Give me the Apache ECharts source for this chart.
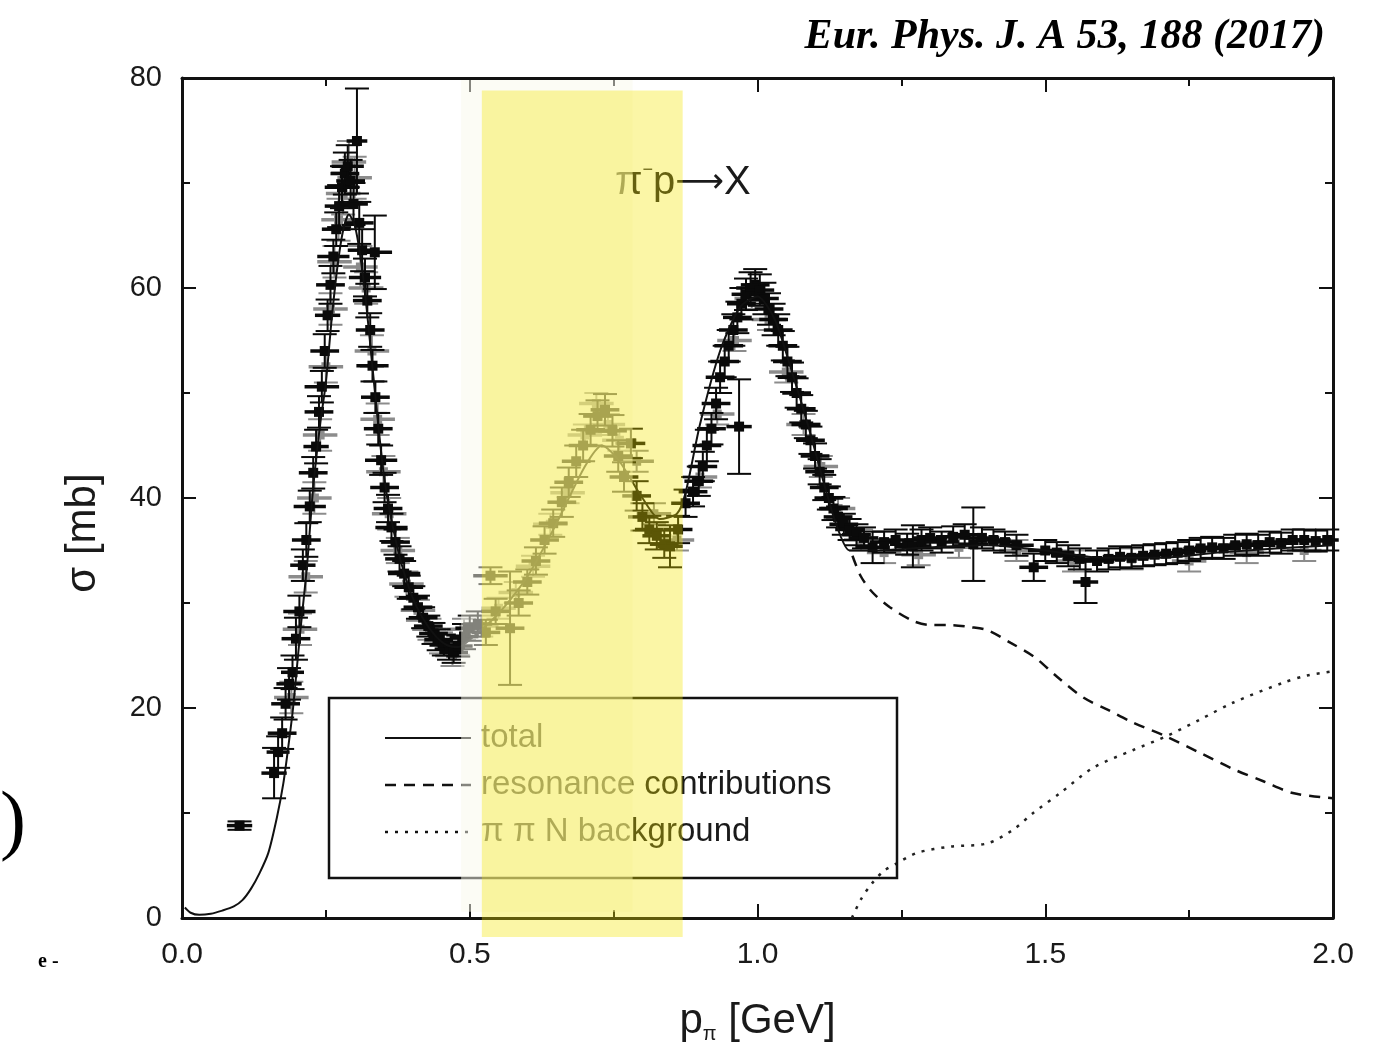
<!DOCTYPE html>
<html>
<head>
<meta charset="utf-8">
<title>pi- p total cross section</title>
<script src="https://cdn.jsdelivr.net/npm/echarts@6.0.0/dist/echarts.min.js"></script>
<style>
html, body { margin: 0; padding: 0; background: #fff; }
#main { width: 1378px; height: 1053px; }
</style>
</head>
<body>
<div id="main"></div>
<script>
// measured points: [p (GeV), sigma (mb), dp, dsigma]
var blackPts = [
  [0.100, 8.8, 0.022, 0.4], [0.160, 13.8, 0.022, 2.4], [0.167, 15.8, 0.020, 1.5],
  [0.174, 17.6, 0.025, 1.5], [0.180, 20.4, 0.025, 1.5], [0.186, 22.3, 0.022, 1.5],
  [0.192, 23.4, 0.020, 1.6], [0.198, 26.6, 0.025, 2.0], [0.204, 29.2, 0.028, 1.5],
  [0.210, 33.6, 0.022, 1.5], [0.216, 36.0, 0.025, 1.6], [0.222, 39.2, 0.028, 1.5],
  [0.228, 42.4, 0.025, 1.5], [0.233, 44.9, 0.022, 1.6], [0.238, 48.2, 0.025, 1.5],
  [0.243, 50.6, 0.030, 1.5], [0.248, 54.0, 0.025, 1.6], [0.253, 57.4, 0.022, 1.5],
  [0.258, 60.3, 0.025, 1.8], [0.263, 63.0, 0.028, 1.6], [0.268, 65.6, 0.025, 1.6],
  [0.273, 67.8, 0.025, 2.0], [0.278, 69.6, 0.030, 2.0], [0.283, 70.9, 0.025, 2.0],
  [0.288, 71.6, 0.028, 2.0], [0.293, 70.2, 0.025, 2.0], [0.298, 68.0, 0.025, 2.0],
  [0.304, 74.0, 0.018, 5.0], [0.308, 66.2, 0.025, 2.0], [0.313, 63.6, 0.025, 2.0],
  [0.318, 61.0, 0.028, 1.8], [0.322, 58.8, 0.025, 1.6], [0.327, 56.0, 0.025, 1.6],
  [0.331, 52.6, 0.028, 1.5], [0.335, 63.4, 0.030, 3.5], [0.336, 49.6, 0.025, 1.5],
  [0.341, 46.6, 0.025, 1.5], [0.346, 43.6, 0.028, 1.4], [0.352, 41.0, 0.025, 1.4],
  [0.358, 39.0, 0.025, 1.3], [0.364, 37.2, 0.028, 1.3], [0.371, 35.8, 0.025, 1.2],
  [0.378, 34.2, 0.025, 1.2], [0.386, 32.8, 0.028, 1.2], [0.394, 31.5, 0.025, 1.1],
  [0.402, 30.5, 0.025, 1.1], [0.410, 29.6, 0.025, 1.1], [0.419, 28.6, 0.025, 1.0],
  [0.428, 27.8, 0.025, 1.0], [0.437, 27.1, 0.025, 1.0], [0.446, 26.5, 0.025, 1.0],
  [0.455, 26.0, 0.025, 1.0], [0.464, 25.6, 0.025, 1.0], [0.472, 25.3, 0.025, 1.0],
  [0.480, 25.9, 0.025, 1.0], [0.490, 26.8, 0.025, 1.2], [0.500, 27.6, 0.025, 1.2],
  [0.514, 28.0, 0.025, 1.2], [0.528, 27.2, 0.025, 1.2], [0.536, 32.6, 0.030, 0.8],
  [0.545, 29.2, 0.025, 1.2], [0.570, 27.6, 0.025, 5.4], [0.585, 30.0, 0.025, 1.2],
  [0.600, 32.0, 0.025, 1.2], [0.615, 34.0, 0.025, 1.3], [0.630, 36.0, 0.025, 1.3],
  [0.645, 37.6, 0.025, 1.3], [0.660, 39.6, 0.025, 1.4], [0.672, 41.5, 0.025, 1.4],
  [0.685, 43.5, 0.025, 1.5], [0.697, 45.0, 0.025, 1.5], [0.710, 46.5, 0.025, 1.5],
  [0.722, 47.8, 0.025, 1.5], [0.735, 48.4, 0.025, 1.5], [0.748, 46.4, 0.025, 1.5],
  [0.758, 44.0, 0.025, 1.5], [0.768, 42.0, 0.025, 1.4], [0.780, 45.2, 0.025, 1.4],
  [0.790, 40.2, 0.025, 1.4], [0.800, 38.2, 0.025, 1.3], [0.812, 37.0, 0.025, 1.3],
  [0.825, 36.4, 0.025, 1.3], [0.838, 35.6, 0.025, 1.3], [0.848, 35.4, 0.022, 2.0],
  [0.862, 37.0, 0.025, 1.3], [0.875, 39.5, 0.025, 1.3], [0.888, 40.6, 0.025, 1.4],
  [0.898, 41.6, 0.025, 1.4], [0.905, 43.0, 0.025, 1.4], [0.912, 45.0, 0.025, 1.5],
  [0.920, 46.6, 0.025, 1.5], [0.928, 49.0, 0.025, 1.5], [0.935, 51.5, 0.025, 1.5],
  [0.943, 53.0, 0.025, 1.5], [0.950, 54.5, 0.025, 1.5], [0.958, 56.0, 0.025, 1.5],
  [0.965, 57.2, 0.025, 1.5], [0.968, 46.8, 0.022, 4.5], [0.972, 58.5, 0.025, 1.5],
  [0.980, 59.4, 0.025, 1.5], [0.988, 60.0, 0.025, 1.5], [0.996, 60.3, 0.025, 1.5],
  [1.004, 59.8, 0.025, 1.5], [1.012, 59.0, 0.025, 1.5], [1.020, 58.0, 0.025, 1.5],
  [1.028, 57.0, 0.025, 1.5], [1.036, 56.0, 0.025, 1.5], [1.044, 54.5, 0.025, 1.4],
  [1.052, 53.0, 0.025, 1.4], [1.060, 51.5, 0.025, 1.4], [1.068, 50.0, 0.025, 1.4],
  [1.076, 48.5, 0.025, 1.3], [1.084, 47.0, 0.025, 1.3], [1.092, 45.5, 0.025, 1.3],
  [1.100, 44.0, 0.025, 1.2], [1.108, 42.5, 0.025, 1.2], [1.116, 41.0, 0.025, 1.2],
  [1.124, 40.0, 0.025, 1.1], [1.132, 39.0, 0.025, 1.1], [1.140, 38.2, 0.025, 1.0],
  [1.150, 37.5, 0.025, 1.0], [1.160, 37.0, 0.025, 1.0], [1.172, 36.5, 0.025, 1.0],
  [1.185, 36.2, 0.025, 1.0], [1.200, 35.3, 0.030, 1.5], [1.220, 35.8, 0.025, 1.0],
  [1.240, 36.0, 0.030, 1.0], [1.260, 35.6, 0.030, 1.0], [1.270, 35.4, 0.032, 2.0],
  [1.285, 36.0, 0.030, 1.0], [1.300, 36.2, 0.030, 1.0], [1.320, 35.8, 0.030, 1.0],
  [1.340, 36.3, 0.030, 1.0], [1.360, 36.5, 0.030, 1.0], [1.375, 35.6, 0.026, 3.5],
  [1.390, 36.2, 0.030, 1.0], [1.410, 36.0, 0.030, 1.0], [1.430, 35.8, 0.030, 1.0],
  [1.450, 35.5, 0.030, 1.0], [1.480, 33.4, 0.025, 1.3], [1.500, 35.0, 0.030, 1.0],
  [1.520, 34.8, 0.030, 1.0], [1.540, 34.5, 0.030, 1.0], [1.560, 34.2, 0.030, 1.0],
  [1.570, 32.0, 0.022, 2.0], [1.590, 34.0, 0.030, 1.0], [1.610, 34.2, 0.030, 1.0],
  [1.630, 34.4, 0.030, 1.0], [1.650, 34.3, 0.030, 1.0], [1.670, 34.5, 0.030, 1.0],
  [1.690, 34.6, 0.030, 1.0], [1.710, 34.7, 0.030, 1.0], [1.730, 34.8, 0.030, 1.0],
  [1.750, 35.0, 0.030, 1.0], [1.770, 35.2, 0.030, 1.0], [1.790, 35.3, 0.030, 1.0],
  [1.810, 35.2, 0.030, 1.0], [1.830, 35.5, 0.030, 1.0], [1.850, 35.6, 0.030, 1.0],
  [1.870, 35.5, 0.030, 1.0], [1.890, 35.8, 0.030, 1.0], [1.910, 35.7, 0.030, 1.0],
  [1.930, 36.0, 0.030, 1.0], [1.950, 36.0, 0.030, 1.0], [1.970, 35.9, 0.030, 1.0],
  [1.990, 36.0, 0.020, 1.0]
];

var greyPts = [
  [0.190, 21.0, 0.030, 1.5], [0.205, 27.5, 0.030, 1.5], [0.215, 32.5, 0.030, 1.5],
  [0.230, 40.0, 0.030, 1.5], [0.240, 46.0, 0.030, 1.5], [0.250, 52.5, 0.030, 1.5],
  [0.258, 58.0, 0.030, 1.5], [0.265, 62.5, 0.030, 1.5], [0.272, 66.5, 0.030, 2.0],
  [0.280, 69.0, 0.030, 2.0], [0.290, 72.0, 0.030, 2.0], [0.300, 70.5, 0.030, 2.0],
  [0.310, 62.0, 0.030, 2.0], [0.320, 60.0, 0.030, 1.5], [0.330, 54.0, 0.030, 1.5],
  [0.340, 47.5, 0.030, 1.5], [0.350, 42.5, 0.030, 1.5], [0.360, 38.5, 0.030, 1.5],
  [0.375, 35.0, 0.030, 1.2], [0.390, 31.8, 0.030, 1.2], [0.410, 29.3, 0.030, 1.0],
  [0.430, 27.5, 0.030, 1.0], [0.450, 26.2, 0.030, 1.0], [0.470, 25.0, 0.030, 1.0],
  [0.490, 27.5, 0.030, 1.0], [0.520, 27.8, 0.030, 1.0], [0.550, 29.5, 0.030, 1.0],
  [0.580, 31.0, 0.030, 1.0], [0.610, 33.5, 0.030, 1.0], [0.640, 37.5, 0.030, 1.0],
  [0.670, 40.5, 0.030, 1.0], [0.700, 46.0, 0.030, 1.0], [0.720, 49.0, 0.030, 1.0],
  [0.740, 47.0, 0.030, 1.0], [0.760, 45.5, 0.030, 1.0], [0.790, 43.5, 0.030, 1.0],
  [0.820, 38.5, 0.030, 1.0], [0.860, 36.0, 0.030, 1.0], [0.900, 42.0, 0.030, 1.0],
  [0.930, 48.0, 0.030, 1.0], [0.960, 55.0, 0.030, 1.0], [0.990, 59.0, 0.030, 1.0],
  [1.020, 57.0, 0.030, 1.0], [1.050, 52.0, 0.030, 1.0], [1.080, 47.0, 0.030, 1.0],
  [1.110, 43.0, 0.030, 1.0], [1.140, 39.0, 0.030, 1.0], [1.180, 36.0, 0.030, 1.0],
  [1.220, 34.8, 0.030, 1.0], [1.280, 34.6, 0.030, 1.0], [1.350, 35.3, 0.030, 1.0],
  [1.450, 35.0, 0.030, 1.0], [1.550, 34.0, 0.030, 1.0], [1.650, 34.2, 0.030, 1.0],
  [1.750, 34.0, 0.030, 1.0], [1.850, 34.8, 0.030, 1.0], [1.950, 35.0, 0.030, 1.0]
];

// model curves [p, sigma]
var totalCurve = [
  [0.005, 1.0], [0.015, 0.5], [0.03, 0.3], [0.05, 0.4], [0.07, 0.7], [0.09, 1.1],
  [0.105, 1.7], [0.12, 2.8], [0.135, 4.3], [0.15, 6.2], [0.165, 9.6], [0.176, 12.8],
  [0.184, 16], [0.193, 20], [0.205, 27], [0.217, 33.4], [0.228, 41], [0.24, 47],
  [0.25, 51], [0.26, 57], [0.27, 62], [0.28, 65.5], [0.29, 67], [0.30, 66],
  [0.31, 63], [0.32, 58.5], [0.33, 53], [0.34, 47.5], [0.35, 42.5], [0.36, 39],
  [0.38, 34], [0.40, 30.6], [0.42, 28.4], [0.44, 26.9], [0.46, 26], [0.48, 25.8],
  [0.50, 26.5], [0.55, 29], [0.60, 32.5], [0.65, 37.5], [0.70, 43], [0.73, 45],
  [0.76, 43.5], [0.80, 40], [0.83, 38], [0.86, 38.5], [0.875, 40.5], [0.90, 47],
  [0.935, 54], [0.97, 58.2], [1.0, 59.2], [1.03, 57], [1.06, 52], [1.09, 46.5],
  [1.12, 40.5], [1.14, 37], [1.16, 35], [1.2, 35], [1.3, 35.3], [1.4, 35.5],
  [1.5, 35], [1.6, 34.3], [1.7, 34.3], [1.8, 34.8], [1.9, 35.2], [2.0, 35.5]
];
var resonanceCurve = [
  [1.165, 34.5], [1.18, 32.5], [1.2, 31], [1.23, 29.6], [1.27, 28.3], [1.3, 27.9],
  [1.335, 27.9], [1.37, 27.7], [1.40, 27.4], [1.44, 26.2], [1.48, 24.9], [1.52, 23.0],
  [1.566, 21.0], [1.61, 19.8], [1.653, 18.6], [1.71, 17.3], [1.77, 15.7], [1.83, 14.1],
  [1.88, 13.0], [1.93, 11.9], [2.0, 11.4]
];
var backgroundCurve = [
  [1.164, 0], [1.18, 1.8], [1.199, 3.3], [1.22, 4.5], [1.242, 5.2], [1.277, 6.2],
  [1.335, 6.8], [1.399, 7.1], [1.444, 8.4], [1.479, 10], [1.526, 11.9], [1.583, 14.3],
  [1.653, 16], [1.71, 17.3], [1.769, 18.9], [1.826, 20.5], [1.913, 22.4], [1.955, 23.1],
  [2.0, 23.5]
];

var legendNames = ['total', 'resonance contributions', 'π π N background'];

// highlighted bands laid over the figure, in axis units
var bandPale = { x: [0.485, 0.783], y: [0.6, 79.8] };
var bandYellow = { x: [0.521, 0.870], y: [-1.8, 78.8] };

var FONT = '"Liberation Sans", Arial, sans-serif';
var INK = '#1a1a1a';

function errorBars(color, box) {
  return function (params, api) {
    var x = api.value(0), y = api.value(1), dx = api.value(2), dy = api.value(3);
    var c = api.coord([x, y]);
    var l = api.coord([x - dx, y]);
    var r = api.coord([x + dx, y]);
    var t = api.coord([x, y + dy]);
    var b = api.coord([x, y - dy]);
    var cap = 12;
    var st = { stroke: color, lineWidth: 2 };
    return {
      type: 'group',
      children: [
        { type: 'line', shape: { x1: l[0], y1: c[1], x2: r[0], y2: c[1] }, style: { stroke: color, lineWidth: 3.5 } },
        { type: 'line', shape: { x1: c[0], y1: t[1], x2: c[0], y2: b[1] }, style: st },
        { type: 'line', shape: { x1: c[0] - cap, y1: t[1], x2: c[0] + cap, y2: t[1] }, style: st },
        { type: 'line', shape: { x1: c[0] - cap, y1: b[1], x2: c[0] + cap, y2: b[1] }, style: st },
        { type: 'rect', shape: { x: c[0] - box / 2, y: c[1] - box / 2, width: box, height: box }, style: { fill: color } }
      ]
    };
  };
}

function frameAxis(pos, isX) {
  return {
    type: 'value',
    position: pos,
    min: 0,
    max: isX ? 2 : 80,
    interval: isX ? 0.5 : 20,
    axisLine: { show: true, onZero: false, lineStyle: { color: '#111', width: 3 } },
    axisTick: { show: true, inside: true, length: 14, lineStyle: { color: '#111', width: 2 } },
    minorTick: { show: true, splitNumber: 2, length: 8, lineStyle: { color: '#111', width: 2 } },
    axisLabel: { show: false },
    splitLine: { show: false }
  };
}

var chart = echarts.init(document.getElementById('main'), null, { renderer: 'canvas' });

var xBottom = frameAxis('bottom', true);
xBottom.axisLabel = {
  show: true, margin: 22, fontSize: 30, color: INK, fontFamily: FONT,
  formatter: function (v) { return v.toFixed(1); }
};
xBottom.name = 'p{s|π} [GeV]';
xBottom.nameLocation = 'middle';
xBottom.nameGap = 80;
xBottom.nameTextStyle = {
  fontSize: 42, color: INK, fontFamily: FONT,
  rich: { s: { fontSize: 20, fontFamily: FONT, color: INK, padding: [26, 0, 0, 0] } }
};

var yLeft = frameAxis('left', false);
yLeft.axisLabel = { show: true, margin: 20, fontSize: 29, color: INK, fontFamily: FONT };

var option = {
  backgroundColor: '#ffffff',
  animation: false,
  grid: { left: 182, right: 45, top: 78, bottom: 135 },
  xAxis: [xBottom, frameAxis('top', true)],
  yAxis: [yLeft, frameAxis('right', false)],
  series: [
    {
      type: 'custom', name: 'grey data', data: greyPts, z: 2,
      encode: { x: 0, y: 1 }, renderItem: errorBars('#8c8c8c', 9)
    },
    {
      type: 'custom', name: 'data', data: blackPts, z: 3,
      encode: { x: 0, y: 1 }, renderItem: errorBars('#0a0a0a', 10)
    },
    {
      type: 'line', name: legendNames[0], data: totalCurve, symbol: 'none', smooth: 0.25, z: 4,
      lineStyle: { color: '#111', width: 2 }
    },
    {
      type: 'line', name: legendNames[1], data: resonanceCurve, symbol: 'none', smooth: 0.3, z: 4,
      lineStyle: { color: '#111', width: 2.5, type: [11, 8] }
    },
    {
      type: 'line', name: legendNames[2], data: backgroundCurve, symbol: 'none', smooth: 0.3, z: 4,
      lineStyle: { color: '#222', width: 2.5, type: [3, 7] }
    }
  ]
};
chart.setOption(option);

function bandRect(b, fill) {
  var p1 = chart.convertToPixel({ xAxisIndex: 0, yAxisIndex: 0 }, [b.x[0], b.y[1]]);
  var p2 = chart.convertToPixel({ xAxisIndex: 0, yAxisIndex: 0 }, [b.x[1], b.y[0]]);
  return {
    type: 'rect', z: 100, silent: true,
    shape: { x: p1[0], y: p1[1], width: p2[0] - p1[0], height: p2[1] - p1[1] },
    style: { fill: fill }
  };
}

// legend drawn by hand: box, line samples and labels
var legendDash = [null, [11, 8], [3, 7]];
var legendItems = [];
legendNames.forEach(function (name, i) {
  var y = 738 + i * 47;
  legendItems.push({
    type: 'line', z: 6,
    shape: { x1: 385, y1: y, x2: 471, y2: y },
    style: { stroke: '#111', lineWidth: i === 0 ? 2 : 2.5, lineDash: legendDash[i] }
  });
  legendItems.push({
    type: 'text', z: 6, x: 481, y: y,
    style: { text: name, fill: INK, font: '33px ' + FONT, verticalAlign: 'middle' }
  });
});

chart.setOption({
  graphic: [
    {
      type: 'rect', z: 5, silent: true,
      shape: { x: 329, y: 698, width: 568, height: 180 },
      style: { fill: 'none', stroke: '#111', lineWidth: 2.5 }
    }
  ].concat(legendItems).concat([
    {
      type: 'text', z: 6, x: 83, y: 533, rotation: Math.PI / 2,
      style: { text: 'σ [mb]', fill: INK, font: '42px ' + FONT, align: 'center', verticalAlign: 'middle' }
    },
    {
      type: 'text', z: 6, x: 615, y: 183,
      style: {
        text: 'π{u|−}p{a|⟶}X', fill: INK, font: '40px ' + FONT, verticalAlign: 'middle',
        rich: {
          u: { fontSize: 18, fontFamily: FONT, fill: INK, padding: [0, 0, 26, 0] },
          a: { fontSize: 34, fontFamily: '"DejaVu Sans", sans-serif', fill: INK }
        }
      }
    },
    {
      type: 'text', z: 6, x: 1325, y: 37,
      style: {
        text: 'Eur. Phys. J. A 53, 188 (2017)', fill: '#000', align: 'right', verticalAlign: 'middle',
        font: 'italic bold 42px "Liberation Serif", serif'
      }
    },
    {
      type: 'text', z: 6, left: 0, top: 786,
      style: { text: ')', fill: '#000', font: '78px "Liberation Serif", serif' }
    },
    {
      type: 'text', z: 6, left: 38, top: 952,
      style: { text: 'e -', fill: '#000', font: 'bold 20px "Liberation Serif", serif' }
    },
    bandRect(bandPale, 'rgba(250,250,235,0.5)'),
    bandRect(bandYellow, 'rgba(243,229,0,0.35)')
  ])
});
</script>
</body>
</html>
